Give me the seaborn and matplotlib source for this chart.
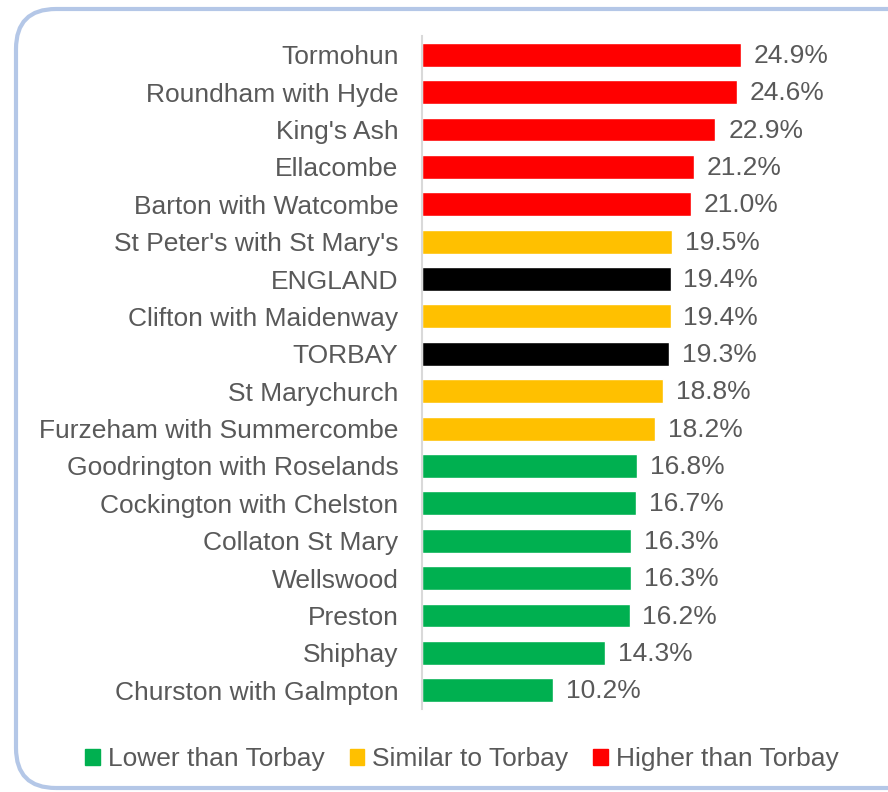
import pandas as pd
import seaborn as sns
import matplotlib.pyplot as plt
from matplotlib.patches import FancyBboxPatch, Patch

sns.set_style("white")
plt.rcParams["font.family"] = ["Liberation Sans", "DejaVu Sans"]

# =========================
# Data
# =========================
wards = [
    "Tormohun", "Roundham with Hyde", "King's Ash", "Ellacombe",
    "Barton with Watcombe", "St Peter's with St Mary's", "ENGLAND",
    "Clifton with Maidenway", "TORBAY", "St Marychurch",
    "Furzeham with Summercombe", "Goodrington with Roselands",
    "Cockington with Chelston", "Collaton St Mary", "Wellswood",
    "Preston", "Shiphay", "Churston with Galmpton",
]
values = [24.9, 24.6, 22.9, 21.2, 21.0, 19.5, 19.4, 19.4, 19.3, 18.8,
          18.2, 16.8, 16.7, 16.3, 16.3, 16.2, 14.3, 10.2]
groups = ["Higher", "Higher", "Higher", "Higher", "Higher", "Similar",
          "Benchmark", "Similar", "Benchmark", "Similar", "Similar",
          "Lower", "Lower", "Lower", "Lower", "Lower", "Lower", "Lower"]

colors = {"Lower": "#00B050", "Similar": "#FFC000",
          "Higher": "#FF0000", "Benchmark": "#000000"}
legend_labels = {"Lower": "Lower than Torbay",
                 "Similar": "Similar to Torbay",
                 "Higher": "Higher than Torbay"}

df = pd.DataFrame({"ward": wards, "value": values, "group": groups})

# =========================
# Plot
# =========================
fig = plt.figure(figsize=(8.88, 7.92), dpi=100)
ax = fig.add_axes([422 / 888, 1 - 709 / 792, 410 / 888, 673 / 792])

sns.barplot(data=df, y="ward", x="value", hue="group", palette=colors,
            dodge=False, width=0.64, orient="h", saturation=1, ax=ax,
            legend=False)

text_col = "#595959"
for i, v in enumerate(values):
    ax.text(v + 1.0, i + 0.03, f"{v:.1f}%", va="center", ha="left",
            fontsize=19, color=text_col)

ax.set_xlim(0, 32)
ax.set_ylim(len(wards) - 0.5, -0.5)
ax.set_xlabel("")
ax.set_ylabel("")
ax.set_xticks([])
ax.tick_params(axis="y", length=0, pad=17, labelsize=19, labelcolor=text_col)
for s in ["top", "right", "bottom"]:
    ax.spines[s].set_visible(False)
ax.spines["left"].set_color("#D9D9D9")
ax.spines["left"].set_linewidth(1.5)

handles = [Patch(color=colors[k]) for k in ["Lower", "Similar", "Higher"]]
fig.legend(handles, [legend_labels[k] for k in ["Lower", "Similar", "Higher"]],
           loc="center", bbox_to_anchor=(462 / 888, 1 - 759 / 792), ncol=3,
           frameon=False, fontsize=19, handlelength=0.55, handleheight=0.55,
           handletextpad=0.3, columnspacing=0.95, labelcolor=text_col)

# rounded border around the chart
border = FancyBboxPatch((16 / 888, 4 / 792), 1.2, 1 - 13 / 792,
                        boxstyle="round,pad=0,rounding_size=0.045",
                        transform=fig.transFigure, fill=False,
                        edgecolor="#B4C7E7", linewidth=3, clip_on=False,
                        mutation_aspect=888 / 792)
fig.patches.append(border)

fig.savefig("out.png", dpi=100)
